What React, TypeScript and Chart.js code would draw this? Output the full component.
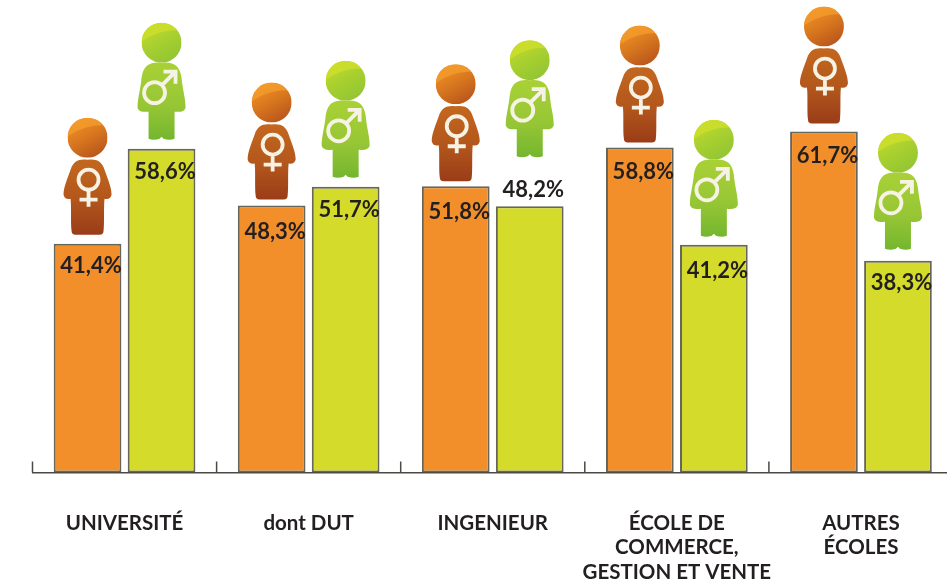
import React, { useEffect, useRef } from "react";
import { Chart, registerables } from "chart.js";

Chart.register(...registerables);

const categories: (string | string[])[] = [
  "UNIVERSITÉ",
  "dont DUT",
  "INGENIEUR",
  ["ÉCOLE DE", "COMMERCE,", "GESTION ET VENTE"],
  ["AUTRES", "ÉCOLES"],
];
const femmes = [41.4, 48.3, 51.8, 58.8, 61.7];
const hommes = [58.6, 51.7, 48.2, 41.2, 38.3];

const ORANGE = "#f28f2b";
const LIME = "#d5db2b";
const EDGE = "#66665a";
const TEXT = "#231f20";
const FONT = "Lato, 'Open Sans', sans-serif";

// Nudges relative to each bar's top (annotation placement, not data)
const labelDy = [
  [22, 26, 26, 24, 24],
  [23, 23, -16, 26, 22],
];
const iconGap = [
  [9, 6, 5, 5, 8],
  [9, 9, 49, 8, 11],
];

function trunk(ctx: CanvasRenderingContext2D, x: number, b: number, female: boolean) {
  const p = (dx: number, dy: number): [number, number] => [x + dx, b - dy];
  ctx.beginPath();
  ctx.moveTo(...p(0, female ? 75 : 77));
  if (female) {
    ctx.bezierCurveTo(...p(9, 76), ...p(14, 74), ...p(17, 65));
    ctx.bezierCurveTo(...p(20, 56), ...p(24, 48), ...p(24, 40));
    ctx.quadraticCurveTo(...p(23, 35), ...p(17, 36));
    ctx.bezierCurveTo(...p(16, 28), ...p(17, 12), ...p(16, 4));
    ctx.quadraticCurveTo(...p(16, 0), ...p(12, 0));
    ctx.lineTo(...p(-12, 0));
    ctx.quadraticCurveTo(...p(-16, 0), ...p(-16, 4));
    ctx.bezierCurveTo(...p(-17, 12), ...p(-16, 28), ...p(-17, 36));
    ctx.quadraticCurveTo(...p(-23, 35), ...p(-24, 40));
    ctx.bezierCurveTo(...p(-24, 48), ...p(-20, 56), ...p(-17, 65));
    ctx.bezierCurveTo(...p(-14, 74), ...p(-9, 76), ...p(0, 75));
  } else {
    ctx.bezierCurveTo(...p(10, 78), ...p(18, 76), ...p(20, 62));
    ctx.bezierCurveTo(...p(21, 50), ...p(24, 42), ...p(24, 32));
    ctx.quadraticCurveTo(...p(23, 27), ...p(13, 28));
    ctx.lineTo(...p(13, 1));
    ctx.quadraticCurveTo(...p(8, -1), ...p(2, 1));
    ctx.lineTo(...p(0, 3));
    ctx.lineTo(...p(-2, 1));
    ctx.quadraticCurveTo(...p(-8, -1), ...p(-13, 1));
    ctx.lineTo(...p(-13, 28));
    ctx.quadraticCurveTo(...p(-23, 27), ...p(-24, 32));
    ctx.bezierCurveTo(...p(-24, 42), ...p(-21, 50), ...p(-20, 62));
    ctx.bezierCurveTo(...p(-18, 76), ...p(-10, 78), ...p(0, 77));
  }
  ctx.closePath();
}

function drawPerson(ctx: CanvasRenderingContext2D, x: number, b: number, female: boolean) {
  ctx.save();
  const headY = b - 97;
  const r = 20;
  // Head: base gradient
  const hg = ctx.createLinearGradient(x - 10, headY - 18, x + 10, headY + 18);
  if (female) {
    hg.addColorStop(0, "#f08f27");
    hg.addColorStop(0.45, "#d9791f");
    hg.addColorStop(1, "#b9561c");
  } else {
    hg.addColorStop(0, "#c4d92c");
    hg.addColorStop(0.45, "#a8d02f");
    hg.addColorStop(1, "#93c534");
  }
  ctx.save();
  ctx.beginPath();
  ctx.arc(x, headY, r, 0, Math.PI * 2);
  ctx.clip();
  ctx.fillStyle = hg;
  ctx.fillRect(x - r, headY - r, r * 2, r * 2);
  // Glossy band at top right of the head
  ctx.beginPath();
  ctx.moveTo(x - r, headY - 1);
  ctx.bezierCurveTo(x - 10, headY - 8, x + 4, headY - 14, x + r, headY - 12);
  ctx.lineTo(x + r, headY - r);
  ctx.lineTo(x - r, headY - r);
  ctx.closePath();
  ctx.fillStyle = female ? "rgba(244,158,44,0.75)" : "rgba(205,222,44,0.8)";
  ctx.fill();
  ctx.restore();

  // Body
  const bg = ctx.createLinearGradient(x, b - 77, x, b);
  if (female) {
    bg.addColorStop(0, "#c4681f");
    bg.addColorStop(0.55, "#b2561c");
    bg.addColorStop(1, "#9a3c18");
  } else {
    bg.addColorStop(0, "#a9d136");
    bg.addColorStop(0.55, "#97c635");
    bg.addColorStop(1, "#74b62f");
  }
  trunk(ctx, x, b, female);
  ctx.fillStyle = bg;
  ctx.fill();

  // Gender symbol
  ctx.strokeStyle = "#f6f3e4";
  ctx.lineWidth = 3.8;
  ctx.lineCap = "butt";
  ctx.beginPath();
  if (female) {
    const cy = b - 55;
    ctx.arc(x + 1, cy, 10, 0, Math.PI * 2);
    ctx.moveTo(x + 1, cy + 10);
    ctx.lineTo(x + 1, b - 28);
    ctx.moveTo(x - 8, b - 35);
    ctx.lineTo(x + 10, b - 35);
  } else {
    const cx = x - 7;
    const cy = b - 47;
    ctx.arc(cx, cy, 10.5, 0, Math.PI * 2);
    ctx.moveTo(cx + 7.5, cy - 7.5);
    ctx.lineTo(cx + 21, cy - 21);
    ctx.moveTo(cx + 9, cy - 21);
    ctx.lineTo(cx + 21, cy - 21);
    ctx.lineTo(cx + 21, cy - 9);
  }
  ctx.stroke();
  ctx.restore();
}

const decorations = {
  id: "decorations",
  afterDatasetsDraw(chart: any) {
    const { ctx, scales } = chart;
    const x = scales.x;
    const bottom = scales.y.getPixelForValue(0);
    // Upward ticks on the category boundaries
    const step = x.getPixelForValue(1) - x.getPixelForValue(0);
    ctx.save();
    ctx.strokeStyle = "#4a4a44";
    ctx.lineWidth = 1.5;
    categories.forEach((_, i) => {
      const tx = x.getPixelForValue(i) - step / 2;
      ctx.beginPath();
      ctx.moveTo(tx, bottom);
      ctx.lineTo(tx, bottom - 11);
      ctx.stroke();
    });
    chart.data.datasets.forEach((ds: any, d: number) => {
      const meta = chart.getDatasetMeta(d);
      meta.data.forEach((bar: any, i: number) => {
        drawPerson(ctx, bar.x, bar.y - iconGap[d][i], d === 0);
        ctx.fillStyle = TEXT;
        ctx.font = `700 22px ${FONT}`;
        ctx.textAlign = "center";
        ctx.textBaseline = "middle";
        const txt = ds.data[i].toFixed(1).replace(".", ",") + "%";
        ctx.fillText(txt, bar.x + 3.5, bar.y + labelDy[d][i]);
      });
    });
    ctx.restore();
  },
};

export default function App() {
  const ref = useRef<HTMLCanvasElement>(null);
  useEffect(() => {
    document.body.style.margin = "0";
    const chart = new Chart(ref.current!, {
      type: "bar",
      data: {
        labels: categories as any,
        datasets: [
          { label: "Femmes", data: femmes, backgroundColor: ORANGE, borderColor: EDGE, borderWidth: 2, borderSkipped: false },
          { label: "Hommes", data: hommes, backgroundColor: LIME, borderColor: EDGE, borderWidth: 2, borderSkipped: false },
        ],
      },
      options: {
        animation: false,
        responsive: false,
        devicePixelRatio: 1,
        layout: { padding: { left: 32.5, right: 0, top: 0, bottom: 0 } },
        plugins: { legend: { display: false }, tooltip: { enabled: false } },
        datasets: { bar: { categoryPercentage: 0.804, barPercentage: 0.915 } },
        scales: {
          x: {
            grid: { display: false, drawTicks: false },
            border: { display: true, color: "#4a4a44", width: 1.5 },
            ticks: {
              autoSkip: false,
              maxRotation: 0,
              minRotation: 0,
              padding: 38,
              color: TEXT,
              font: { family: FONT, weight: 700, size: 20.5, lineHeight: 1.21 },
            },
            afterFit(scale: any) {
              scale.height = 112.5;
            },
          },
          y: { display: false, min: 0, max: 85.5 },
        },
      } as any,
      plugins: [decorations],
    });
    return () => chart.destroy();
  }, []);
  return (
    <div style={{ width: 947, height: 585, overflow: "hidden", background: "#fff" }}>
      <canvas ref={ref} width={953} height={585} style={{ display: "block" }} />
    </div>
  );
}
